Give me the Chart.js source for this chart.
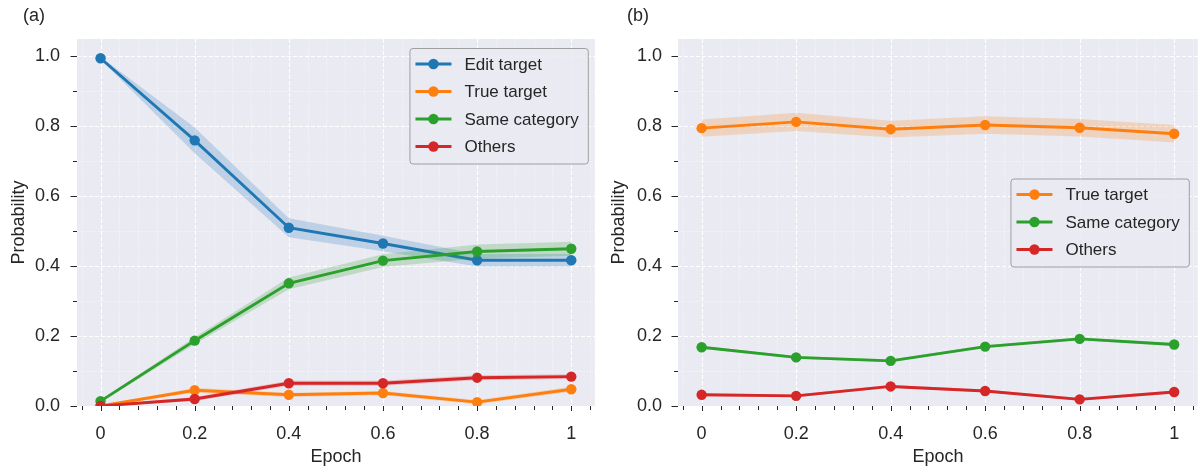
<!DOCTYPE html>
<html>
<head>
<meta charset="utf-8">
<script src="https://cdn.jsdelivr.net/npm/chart.js@4.4.0/dist/chart.umd.min.js"></script>
<style>
  body { margin: 0; background: #fff; }
  #wrap { position: relative; width: 1203px; height: 473px; }
  #wrap canvas { position: absolute; top: 0; }
</style>
</head>
<body>
<div id="wrap">
  <canvas id="chartA" width="600" height="473" style="left:0"></canvas>
  <canvas id="chartB" width="603" height="473" style="left:600px"></canvas>
</div>
<script>
// Données
const epochs = [0, 0.2, 0.4, 0.6, 0.8, 1];

const xTickValues = [0, 0.2, 0.4, 0.6, 0.8, 1];
const xTickLabels = ["0", "0.2", "0.4", "0.6", "0.8", "1"];
const xMinorTicks = [-0.04, 0.04, 0.08, 0.12, 0.16, 0.24, 0.28, 0.32, 0.36,
  0.44, 0.48, 0.52, 0.56, 0.64, 0.68, 0.72, 0.76, 0.84, 0.88, 0.92, 0.96, 1.04];
const yTickValues = [0, 0.2, 0.4, 0.6, 0.8, 1.0];
const yTickLabels = ["0.0", "0.2", "0.4", "0.6", "0.8", "1.0"];
const yMinorTicks = [0.1, 0.3, 0.5, 0.7, 0.9];

// (a)
const editA = [0.995, 0.760, 0.510, 0.465, 0.417, 0.417];
const editAErr = [0.004, 0.037, 0.027, 0.022, 0.018, 0.018];
const trueA = [0.0, 0.045, 0.032, 0.037, 0.011, 0.048];
const trueAErr = [0.002, 0.007, 0.006, 0.006, 0.006, 0.007];
const sameA = [0.014, 0.187, 0.351, 0.416, 0.442, 0.450];
const sameAErr = [0.004, 0.010, 0.017, 0.018, 0.020, 0.020];
const othersA = [0.0, 0.020, 0.065, 0.065, 0.081, 0.084];
const othersAErr = [0.002, 0.006, 0.007, 0.007, 0.007, 0.007];

// (b)
const trueB = [0.795, 0.813, 0.792, 0.804, 0.796, 0.779];
const trueBErr = [0.025, 0.026, 0.024, 0.025, 0.025, 0.025];
const sameB = [0.168, 0.139, 0.129, 0.170, 0.192, 0.176];
const sameBErr = [0.004, 0.004, 0.004, 0.004, 0.004, 0.004];
const othersB = [0.032, 0.029, 0.056, 0.043, 0.019, 0.040];
const othersBErr = [0.004, 0.004, 0.004, 0.004, 0.004, 0.004];

const COLORS = {
  blue: "#1f77b4",
  orange: "#ff7f0e",
  green: "#2ca02c",
  red: "#d62728",
};
const TEXT = "#262626";
const FONT = "'Liberation Sans', Arial, Helvetica, sans-serif";
const LINE_W = 2.9;
const DOT_R = 5.2;

function rgba(hex, a) {
  const n = parseInt(hex.slice(1), 16);
  return `rgba(${(n >> 16) & 255}, ${(n >> 8) & 255}, ${n & 255}, ${a})`;
}

// bande (bas, haut) + ligne pour une série
function series(label, values, errs, color) {
  const pts = (sign) => epochs.map((x, i) => ({ x: x, y: values[i] + sign * errs[i] }));
  return [
    { data: pts(-1), borderWidth: 0, pointRadius: 0, fill: false, band: true },
    { data: pts(1), borderWidth: 0, pointRadius: 0, fill: "-1",
      backgroundColor: rgba(color, 0.22), band: true },
    { label: label, data: pts(0), borderColor: color, backgroundColor: color,
      borderWidth: LINE_W, pointRadius: DOT_R, pointHoverRadius: DOT_R,
      pointBorderWidth: 0, pointBackgroundColor: color, fill: false },
  ];
}

// fond, grilles et graduations façon seaborn
const gridPlugin = {
  id: "sbGrid",
  beforeDraw(chart) {
    const ctx = chart.ctx;
    ctx.save();
    ctx.fillStyle = "#fff";
    ctx.fillRect(0, 0, chart.width, chart.height);
    ctx.restore();
  },
  beforeDatasetsDraw(chart) {
    const { ctx, chartArea: a, scales: { x, y } } = chart;
    ctx.save();
    ctx.fillStyle = "#eaeaf2";
    ctx.fillRect(a.left, a.top, a.right - a.left, a.bottom - a.top);

    ctx.strokeStyle = "rgba(255,255,255,0.9)";
    ctx.lineWidth = 0.7;
    ctx.setLineDash([1, 1.6]);
    xMinorTicks.forEach((v) => {
      const px = Math.round(x.getPixelForValue(v)) + 0.5;
      ctx.beginPath(); ctx.moveTo(px, a.top); ctx.lineTo(px, a.bottom); ctx.stroke();
    });
    yMinorTicks.forEach((v) => {
      const py = Math.round(y.getPixelForValue(v)) + 0.5;
      ctx.beginPath(); ctx.moveTo(a.left, py); ctx.lineTo(a.right, py); ctx.stroke();
    });

    ctx.strokeStyle = "#ffffff";
    ctx.lineWidth = 1.1;
    ctx.setLineDash([4, 2]);
    xTickValues.forEach((v) => {
      const px = Math.round(x.getPixelForValue(v)) + 0.5;
      ctx.beginPath(); ctx.moveTo(px, a.top); ctx.lineTo(px, a.bottom); ctx.stroke();
    });
    yTickValues.forEach((v) => {
      const py = Math.round(y.getPixelForValue(v)) + 0.5;
      ctx.beginPath(); ctx.moveTo(a.left, py); ctx.lineTo(a.right, py); ctx.stroke();
    });
    ctx.restore();
  },
  afterDraw(chart) {
    const { ctx, chartArea: a, scales: { x, y } } = chart;
    ctx.save();
    ctx.strokeStyle = TEXT;
    ctx.lineWidth = 1;
    const xt = (v, len) => {
      const px = Math.round(x.getPixelForValue(v)) + 0.5;
      ctx.beginPath(); ctx.moveTo(px, a.bottom); ctx.lineTo(px, a.bottom + len); ctx.stroke();
    };
    const yt = (v, len) => {
      const py = Math.round(y.getPixelForValue(v)) + 0.5;
      ctx.beginPath(); ctx.moveTo(a.left - len, py); ctx.lineTo(a.left, py); ctx.stroke();
    };
    xTickValues.forEach((v) => xt(v, 5));
    xMinorTicks.forEach((v) => xt(v, 4));
    yTickValues.forEach((v) => yt(v, 6.5));
    yMinorTicks.forEach((v) => yt(v, 4));

    // lettre du panneau
    const opts = chart.options.plugins.sbGrid || {};
    if (opts.tag) {
      ctx.fillStyle = TEXT;
      ctx.font = `18px ${FONT}`;
      ctx.textBaseline = "middle";
      ctx.textAlign = "left";
      ctx.fillText(opts.tag, opts.tagX, 16);
    }
    ctx.restore();
  },
};

// légende encadrée dans le graphique
const boxLegend = {
  id: "boxLegend",
  afterDraw(chart, args, opts) {
    const { ctx, chartArea: a } = chart;
    const items = chart.data.datasets.filter((d) => !d.band);
    ctx.save();
    ctx.font = `17px ${FONT}`;
    const textW = Math.max(...items.map((d) => ctx.measureText(d.label).width));
    const padL = 6, handle = 36, gap = 13, padR = 9, rowH = 27.5;
    const w = padL + handle + gap + textW + padR;
    const h = 16 + (items.length - 1) * rowH + 17;
    const left = a.right - opts.right - w;
    const top = opts.loc === "center right" ? (a.top + a.bottom) / 2 - h / 2 : a.top + opts.top;

    ctx.beginPath();
    ctx.roundRect(left + 0.5, top + 0.5, w, h, 3);
    ctx.fillStyle = "rgba(234,234,242,0.85)";
    ctx.fill();
    ctx.strokeStyle = "#a0a0a0";
    ctx.lineWidth = 1;
    ctx.stroke();

    items.forEach((d, i) => {
      const cy = top + 16 + i * rowH;
      const hx = left + padL;
      ctx.strokeStyle = d.borderColor;
      ctx.lineWidth = LINE_W;
      ctx.beginPath(); ctx.moveTo(hx, cy); ctx.lineTo(hx + handle, cy); ctx.stroke();
      ctx.fillStyle = d.borderColor;
      ctx.beginPath(); ctx.arc(hx + handle / 2, cy, DOT_R, 0, Math.PI * 2); ctx.fill();
      ctx.fillStyle = TEXT;
      ctx.textBaseline = "middle";
      ctx.textAlign = "left";
      ctx.fillText(d.label, hx + handle + gap, cy + 1);
    });
    ctx.restore();
  },
};

function makeChart(id, groups, cfg) {
  const datasets = [].concat(...groups);
  datasets.forEach((d, i) => {
    d.order = datasets.length - i; // dessiné dans l'ordre du tableau
    d.clip = 0;
  });
  const ctx = document.getElementById(id).getContext("2d");
  return new Chart(ctx, {
    type: "line",
    data: { datasets: datasets },
    options: {
      responsive: false,
      animation: false,
      devicePixelRatio: 1,
      layout: { padding: { top: 39, left: 0, right: 0, bottom: 0 } },
      plugins: {
        legend: { display: false },
        tooltip: { enabled: false },
        sbGrid: { tag: cfg.tag, tagX: cfg.tagX },
        boxLegend: cfg.legend,
      },
      scales: {
        x: {
          type: "linear",
          min: -0.05,
          max: 1.05,
          afterBuildTicks: (s) => { s.ticks = xTickValues.map((v) => ({ value: v })); },
          afterFit: (s) => { s.height = 67; },
          grid: { display: false, drawTicks: true, tickLength: 6 },
          border: { display: false },
          ticks: {
            autoSkip: false, maxRotation: 0, padding: 11, color: TEXT,
            font: { family: FONT, size: 18 },
            callback: (v, i) => xTickLabels[i],
          },
          title: { display: true, text: "Epoch", color: TEXT,
            font: { family: FONT, size: 18 }, padding: { top: 0, bottom: 5 } },
        },
        y: {
          type: "linear",
          min: 0,
          max: 1.05,
          afterBuildTicks: (s) => { s.ticks = yTickValues.map((v) => ({ value: v })); },
          afterFit: (s) => { s.width = cfg.yWidth; },
          grid: { display: false, drawTicks: true, tickLength: 6 },
          border: { display: false },
          ticks: {
            autoSkip: false, padding: cfg.yPad, color: TEXT,
            font: { family: FONT, size: 18 },
            callback: (v, i) => yTickLabels[i],
          },
          title: { display: true, text: "Probability", color: TEXT,
            font: { family: FONT, size: 18 }, padding: { top: 8, bottom: 0 } },
        },
      },
    },
    plugins: [gridPlugin, boxLegend],
  });
}

makeChart("chartA", [
  series("Edit target", editA, editAErr, COLORS.blue),
  series("True target", trueA, trueAErr, COLORS.orange),
  series("Same category", sameA, sameAErr, COLORS.green),
  series("Others", othersA, othersAErr, COLORS.red),
], { tag: "(a)", tagX: 23, yWidth: 77, yPad: 11, legend: { loc: "upper right", right: 7, top: 9 } });

makeChart("chartB", [
  series("True target", trueB, trueBErr, COLORS.orange),
  series("Same category", sameB, sameBErr, COLORS.green),
  series("Others", othersB, othersBErr, COLORS.red),
], { tag: "(b)", tagX: 27, yWidth: 78, yPad: 10, legend: { loc: "center right", right: 9, top: 0 } });
</script>
</body>
</html>
